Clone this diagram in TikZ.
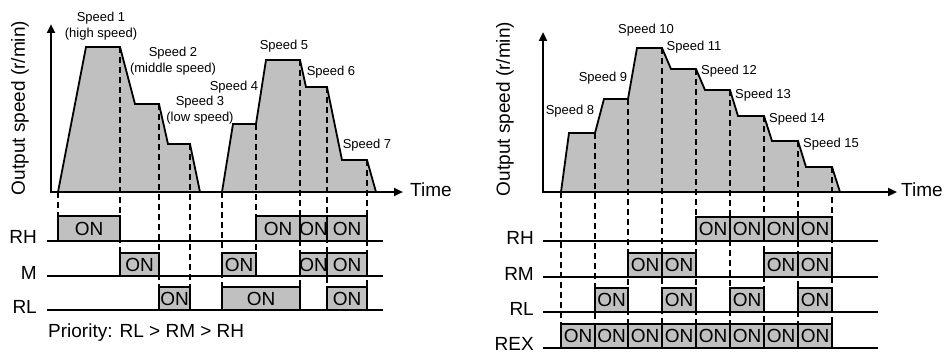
\documentclass[tikz,border=0pt]{standalone}
\usepackage{fontspec}
\setmainfont{Liberation Sans}
\usetikzlibrary{arrows.meta}
\definecolor{profilegray}{RGB}{192,192,192}
\tikzset{
  axisline/.style={line width=2.3pt, line join=miter,
    {Triangle[length=9pt,width=8pt]}-{Triangle[length=9pt,width=8pt]}},
  sigline/.style={line width=2.4pt},
  profile/.style={fill=profilegray, draw=black, line width=1.8pt, line join=miter},
  guide/.style={line width=1.6pt, dash pattern=on 6pt off 4pt},
  onbox/.style={fill=profilegray, draw=black, line width=1.8pt},
  ontext/.style={font=\fontsize{19}{19}\selectfont, inner sep=0pt},
  biglabel/.style={font=\fontsize{19}{19}\selectfont, inner sep=0pt},
  speedlabel/.style={font=\fontsize{13}{16}\selectfont, align=center, inner sep=0pt}
}
\begin{document}
\begin{tikzpicture}[x=1pt,y=-1pt]
\useasboundingbox (0,0) rectangle (946,353);

\draw[profile] (58,192) -- (86,47) -- (120,47) -- (135,104) -- (159,104)
  -- (168,144) -- (190,144) -- (200,192) -- cycle;
\draw[profile] (222,192) -- (233,124) -- (256,124) -- (266,60) -- (300,60)
  -- (306,87) -- (327,87) -- (342,160) -- (367,160) -- (376,192) -- cycle;
\draw[profile] (561,192) -- (569,133) -- (595,133) -- (604,99) -- (628,99)
  -- (637,48) -- (662,48) -- (671,69) -- (696,69) -- (705,90) -- (730,90)
  -- (738,116) -- (764,116) -- (772,141) -- (798,141) -- (806,167)
  -- (832,167) -- (840,192) -- cycle;

\foreach \x/\ya/\yb in {58/192/216, 120/47/253, 159/104/287, 190/144/287,
  222/192/287, 256/124/253, 300/60/287, 327/87/287, 367/160/287}
  \draw[guide] (\x,\ya) -- (\x,\yb);
\foreach \x/\ya in {561/192, 595/133, 628/99, 662/48, 696/69, 730/90,
  764/116, 798/141, 832/167}
  \draw[guide] (\x,\ya) -- (\x,324);

\coordinate (lorig) at (51,192);
\coordinate (lytip) at (51,24);
\coordinate (lxtip) at (403,192);
\coordinate (rorig) at (543,192);
\coordinate (rytip) at (543,32);
\coordinate (rxtip) at (897,192);
\draw[axisline] (lxtip) -- (lorig) -- (lytip);
\draw[axisline] (rxtip) -- (rorig) -- (rytip);

\node[biglabel, anchor=base west] (ltime) at (410,196) {Time};
\node[biglabel, anchor=base west] (rtime) at (901,196) {Time};
\node[biglabel, rotate=90] (lyname) at (20,108) {Output speed (r/min)};
\node[biglabel, rotate=90] (ryname) at (505,109) {Output speed (r/min)};

\node[speedlabel] (sp1) at (101,26) {Speed 1\\(high speed)};
\node[speedlabel] (sp2) at (173,61) {Speed 2\\(middle speed)};
\node[speedlabel] (sp3) at (200,110) {Speed 3\\(low speed)};
\node[speedlabel] (sp4) at (234,87) {Speed 4};
\node[speedlabel] (sp5) at (284,46) {Speed 5};
\node[speedlabel] (sp6) at (331,72) {Speed 6};
\node[speedlabel] (sp7) at (367,145) {Speed 7};
\node[speedlabel] (sp8) at (570,111) {Speed 8};
\node[speedlabel] (sp9) at (603,78) {Speed 9};
\node[speedlabel] (sp10) at (646,30) {Speed 10};
\node[speedlabel] (sp11) at (694,47) {Speed 11};
\node[speedlabel] (sp12) at (729,71) {Speed 12};
\node[speedlabel] (sp13) at (763,95) {Speed 13};
\node[speedlabel] (sp14) at (797,119) {Speed 14};
\node[speedlabel] (sp15) at (831,144) {Speed 15};

\foreach \a/\b [count=\i] in {58/120, 256/300, 300/327, 327/367} {
  \draw[onbox] (\a,216) rectangle (\b,241);
  \node[ontext] (lrh\i) at ({(\a+\b)/2},228.5) {ON};
}
\foreach \a/\b [count=\i] in {120/159, 222/256, 300/327, 327/367} {
  \draw[onbox] (\a,253) rectangle (\b,276);
  \node[ontext] (lm\i) at ({(\a+\b)/2},264.5) {ON};
}
\foreach \a/\b [count=\i] in {159/190, 222/300, 327/367} {
  \draw[onbox] (\a,287) rectangle (\b,310);
  \node[ontext] (lrl\i) at ({(\a+\b)/2},298.5) {ON};
}

\foreach \a/\b [count=\i] in {696/730, 730/764, 764/798, 798/832} {
  \draw[onbox] (\a,217) rectangle (\b,241);
  \node[ontext] (rrh\i) at ({(\a+\b)/2},229) {ON};
}
\foreach \a/\b [count=\i] in {628/662, 662/696, 764/798, 798/832} {
  \draw[onbox] (\a,253) rectangle (\b,277);
  \node[ontext] (rrm\i) at ({(\a+\b)/2},265) {ON};
}
\foreach \a/\b [count=\i] in {595/628, 662/696, 730/764, 798/832} {
  \draw[onbox] (\a,288) rectangle (\b,312);
  \node[ontext] (rrl\i) at ({(\a+\b)/2},300) {ON};
}
\foreach \a/\b [count=\i] in {561/595, 595/628, 628/662, 662/696,
  696/730, 730/764, 764/798, 798/832} {
  \draw[onbox] (\a,324) rectangle (\b,348);
  \node[ontext] (rrex\i) at ({(\a+\b)/2},336) {ON};
}

\foreach \y in {241, 276, 310}
  \draw[sigline] (47,\y) -- (383,\y);
\foreach \y in {241, 277, 312, 348}
  \draw[sigline] (543,\y) -- (878,\y);

\node[biglabel, anchor=base east] (lrhname) at (37,243) {RH};
\node[biglabel, anchor=base east] (lmname) at (37,279) {M};
\node[biglabel, anchor=base east] (lrlname) at (37,313) {RL};
\node[biglabel, anchor=base east] (rrhname) at (534,244) {RH};
\node[biglabel, anchor=base east] (rrmname) at (534,280) {RM};
\node[biglabel, anchor=base east] (rrlname) at (534,315) {RL};
\node[biglabel, anchor=base east] (rrexname) at (534,350) {REX};
\node[biglabel, anchor=base west] (prio) at (48,337) {Priority: RL > RM > RH};
\end{tikzpicture}
\end{document}
